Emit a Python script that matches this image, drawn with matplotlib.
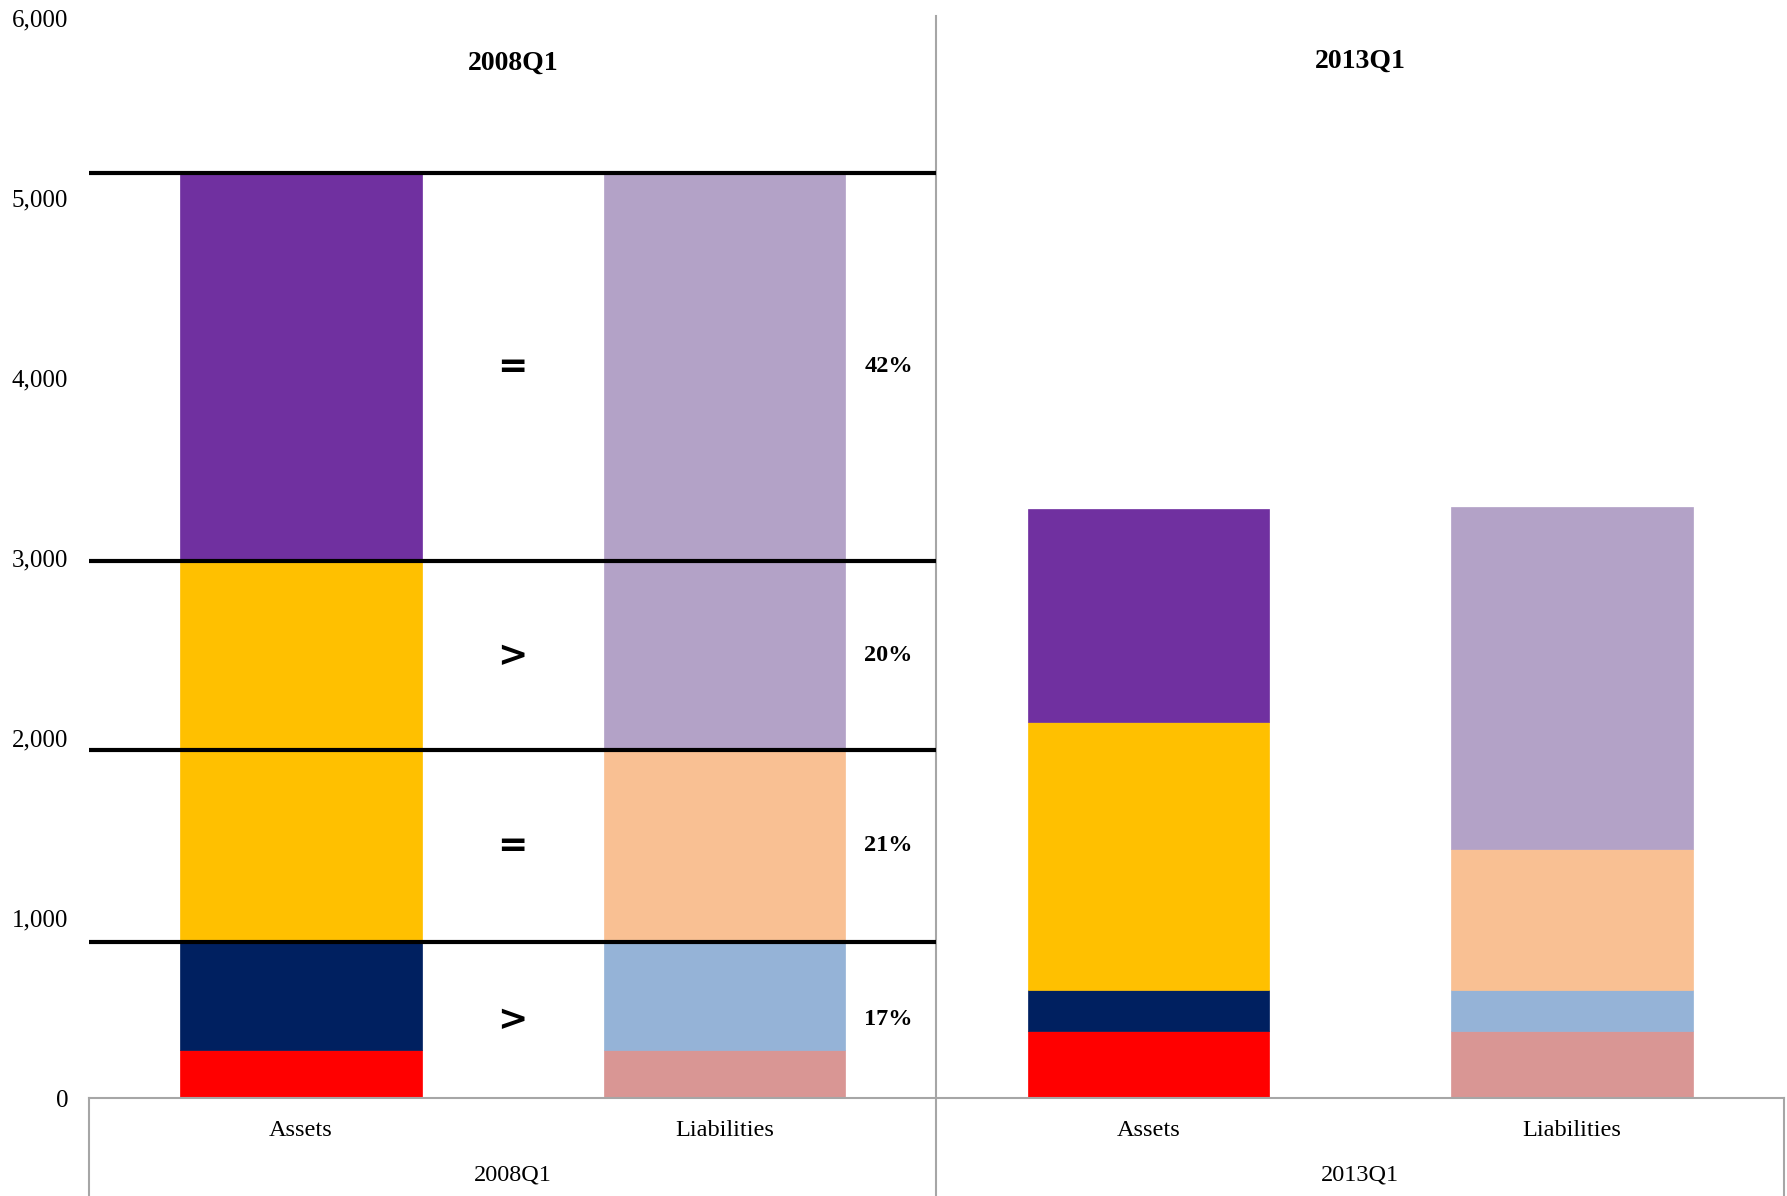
import matplotlib.pyplot as plt
import numpy as np

# stacked balance sheet segments, bottom to top
periods = ["2008Q1", "2013Q1"]
sides = ["Assets", "Liabilities"]
assets_2008 = [267, 601, 2115, 2157]
liab_2008 = [267, 601, 1065, 3207]
assets_2013 = [371, 231, 1485, 1187]
liab_2013 = [371, 231, 781, 1899]

asset_colors = ["#FF0000", "#002060", "#FFC000", "#7030A0"]
liab_colors = ["#D99694", "#95B3D7", "#F9C093", "#B3A2C7"]

band_signs = ["=", ">", "=", ">"]  # top to bottom

plt.rcParams['font.family'] = ['Liberation Serif', 'DejaVu Serif']

fig = plt.figure(figsize=(17.87, 11.96), dpi=100)
ax = fig.add_axes([0.0498, 0.0819, 0.9485, 0.903])

stacks = [assets_2008, liab_2008, assets_2013, liab_2013]
colors = [asset_colors, liab_colors, asset_colors, liab_colors]
width = 0.57
for i, (vals, cols) in enumerate(zip(stacks, colors)):
    bottom = 0
    for v, c in zip(vals, cols):
        ax.bar(i, v, width, bottom=bottom, color=c, edgecolor=c, linewidth=0.5)
        bottom += v

# comparison bands for 2008Q1
a = np.cumsum(assets_2008)
l = np.cumsum(liab_2008)
total = a[-1]
levels = [total, a[2], l[2], a[1]]  # top to bottom
for y in levels:
    ax.plot([-0.5, 1.5], [y, y], color="black", lw=3, solid_capstyle="butt",
            zorder=5, clip_on=False)

edges = levels + [0]
for k in range(4):
    mid = (edges[k] + edges[k + 1]) / 2
    share = (edges[k] - edges[k + 1]) / total * 100
    ax.text(0.5, mid, band_signs[k], ha="center", va="center",
            fontsize=26, fontweight="bold", family="DejaVu Sans")
    ax.text(1.387, mid, f"{share:.0f}%", ha="center", va="center",
            fontsize=17.5, fontweight="bold")

ax.text(0.5, 5750, periods[0], ha="center", va="center", fontsize=20, fontweight="bold")
ax.text(2.5, 5760, periods[1], ha="center", va="center", fontsize=20, fontweight="bold")

ax.set_xlim(-0.5, 3.5)
ax.set_ylim(0, 6000)
ax.set_yticks(np.arange(0, 6001, 1000))
ax.set_yticklabels([f"{v:,}" for v in range(0, 6001, 1000)], fontsize=18)
ax.set_xticks(range(4))
ax.set_xticklabels(sides * 2, fontsize=17.5)
ax.tick_params(axis="both", length=0)
ax.tick_params(axis="y", pad=15)
ax.tick_params(axis="x", pad=16)

for s in ["left", "right", "top"]:
    ax.spines[s].set_visible(False)
ax.spines["bottom"].set_color("#A6A6A6")
ax.spines["bottom"].set_linewidth(1.5)

# group labels and separators of the category axis
tr = ax.get_xaxis_transform()
for g, name in enumerate(periods):
    ax.text(0.5 + 2 * g, -0.071, name, transform=tr, ha="center", va="center", fontsize=17.5)
ax.plot([1.5, 1.5], [-0.1, 1.002], color="#A6A6A6", lw=1.5, transform=tr, clip_on=False)
for x in [-0.5, 3.5]:
    ax.plot([x, x], [-0.1, 0], color="#A6A6A6", lw=1.5, transform=tr, clip_on=False)

fig.savefig("out.png", dpi=100)
